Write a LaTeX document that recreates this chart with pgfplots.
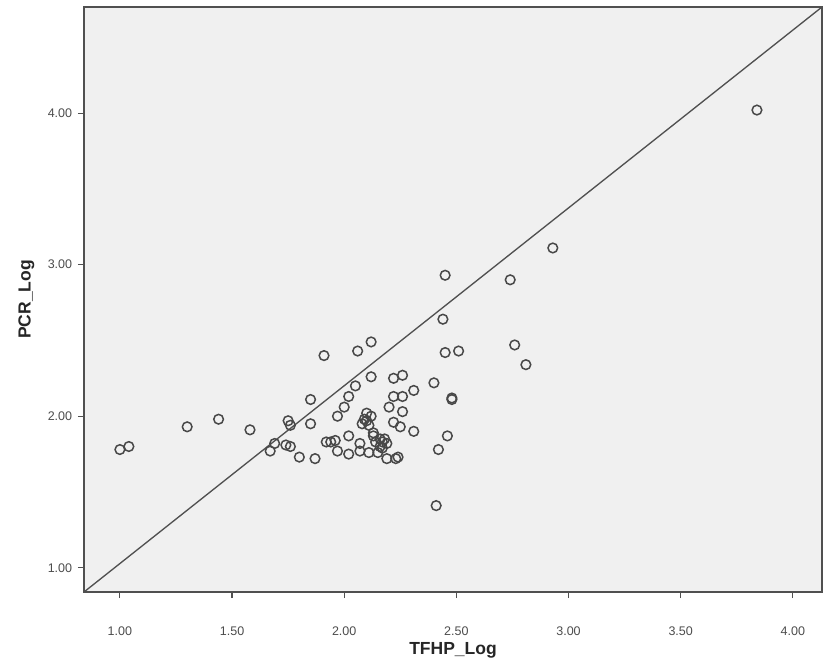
\documentclass[border=0pt]{standalone}
\usepackage{fontspec}
\setmainfont{Liberation Sans}
\usepackage{pgfplots}
\usepackage{pgfplotstable}
\pgfplotsset{compat=1.18}
\definecolor{plotbg}{HTML}{F0F0F0}
\definecolor{framecol}{HTML}{505050}
\definecolor{markcol}{HTML}{484848}

\pgfplotstableread{
x y
1.00 1.78
1.04 1.80
1.30 1.93
1.44 1.98
1.58 1.91
1.67 1.77
1.69 1.82
1.74 1.81
1.76 1.80
1.75 1.97
1.76 1.94
1.80 1.73
1.85 2.11
1.85 1.95
1.87 1.72
1.91 2.40
1.92 1.83
1.94 1.83
1.96 1.84
1.97 1.77
1.97 2.00
2.00 2.06
2.02 2.13
2.02 1.87
2.02 1.75
2.05 2.20
2.06 2.43
2.07 1.82
2.07 1.77
2.08 1.95
2.09 1.98
2.10 1.97
2.10 2.02
2.11 1.94
2.12 2.00
2.11 1.76
2.12 2.49
2.12 2.26
2.13 1.89
2.13 1.87
2.14 1.83
2.15 1.76
2.16 1.85
2.16 1.80
2.17 1.83
2.17 1.79
2.18 1.85
2.19 1.72
2.19 1.82
2.20 2.06
2.22 2.25
2.22 2.13
2.22 1.96
2.23 1.72
2.24 1.73
2.25 1.93
2.26 2.27
2.26 2.13
2.26 2.03
2.31 2.17
2.31 1.90
2.40 2.22
2.41 1.41
2.42 1.78
2.44 2.64
2.45 2.42
2.45 2.93
2.46 1.87
2.48 2.12
2.48 2.11
2.51 2.43
2.74 2.90
2.76 2.47
2.81 2.34
2.93 3.11
3.84 4.02
}\pointsdata

\begin{document}
\begin{tikzpicture}
\begin{axis}[
  at={(0,0)}, anchor=south west,
  scale only axis, width=442.8pt, height=351pt,
  xmin=0.84, xmax=4.13, ymin=0.84, ymax=4.70,
  axis background/.style={fill=plotbg},
  axis line style={framecol, line width=0.8pt},
  xtick={1,1.5,2,2.5,3,3.5,4}, ytick={1,2,3,4},
  xtick pos=left, ytick pos=left,
  tick align=outside, major tick length=3.6pt,
  major tick style={framecol, line width=0.7pt},
  /pgf/number format/assume math mode=true,
  /pgf/number format/fixed, /pgf/number format/fixed zerofill,
  /pgf/number format/precision=2,
  ticklabel style={font=\fontsize{7.5}{9}\selectfont, text=black!70},
  xticklabel style={yshift=-14pt},
  xlabel={\textbf{TFHP\_Log}}, ylabel={\textbf{PCR\_Log}},
  label style={font=\fontsize{10.5}{12}\selectfont, text=black!85},
  xlabel style={at={(axis description cs:0.5,-0.099)}, anchor=center},
  ylabel style={at={(axis description cs:-0.078,0.5)}, anchor=center},
]
\addplot[framecol, line width=0.8pt] coordinates {(0.84,0.84) (4.13,4.70)};
\addplot[only marks, mark=o, mark size=2.9pt,
  mark options={draw=markcol, line width=0.9pt}] table[x=x, y=y] {\pointsdata};
\end{axis}
\path (-50.4pt,-44.4pt) rectangle (443.4pt,355.2pt);
\end{tikzpicture}
\end{document}
